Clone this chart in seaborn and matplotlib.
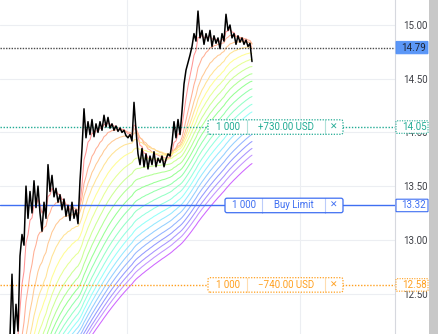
import colorsys
import numpy as np
import pandas as pd
import matplotlib
matplotlib.use("Agg")
import matplotlib.pyplot as plt
from matplotlib.patches import FancyBboxPatch
from matplotlib.lines import Line2D
from matplotlib.transforms import IdentityTransform
import seaborn as sns

# ---------------- data ----------------
close = [
    12.10, 12.68, 12.08, 12.40, 12.15, 12.85, 13.05, 12.95, 13.50, 13.20,
    13.45, 13.25, 13.55, 13.30, 13.50, 13.25, 13.08, 13.35, 13.20, 13.70,
    13.45, 13.60, 13.40, 13.48, 13.35, 13.42, 13.28, 13.38, 13.22, 13.32,
    13.18, 13.35, 13.20, 13.28, 13.15, 13.55, 13.85, 14.22, 13.95, 14.10,
    13.98, 14.12, 13.96, 14.08, 14.00, 14.10, 14.02, 14.16, 14.05, 14.14,
    14.04, 14.08, 14.02, 14.06, 14.01, 14.04, 14.00, 14.02, 13.97, 13.95,
    13.98, 13.92, 14.28, 14.02, 13.80, 13.70, 13.85, 13.68, 13.80, 13.66,
    13.78, 13.70, 13.82, 13.68, 13.76, 13.72, 13.78, 13.68, 13.75, 13.80,
    13.78, 13.90, 14.10, 13.95, 14.12, 13.98, 14.20, 14.45, 14.58, 14.65,
    14.72, 14.80, 14.92, 14.85, 15.13, 14.88, 14.95, 14.82, 14.92, 14.85,
    14.95, 14.80, 14.90, 14.83, 14.88, 14.78, 14.92, 14.85, 15.10, 14.95,
    15.00, 14.88, 14.92, 14.82, 14.90, 14.84, 14.88, 14.82, 14.86, 14.80,
    14.83, 14.66,
]
ma_seed = 11.09
ma_periods = [5, 12, 19, 26, 33, 40, 47, 54, 61, 68,
              75, 82, 89, 96, 103, 110, 117, 124, 131, 140]
y_ticks = [12.50, 13.00, 13.50, 14.00, 14.50, 15.00]
last_price = 14.79
order_prices = [14.05, 13.32, 12.58]
order_qty = ["1 000", "1 000", "1 000"]
order_texts = ["+730.00 USD", "Buy Limit", "\u2212740.00 USD"]

# ---------------- styling ----------------
order_colors = ["#22ab94", "#3f6ff2", "#ffa01f"]
order_ls = [(0, (1, 1.2)), "solid", (0, (1, 1.2))]

sns.set_theme(style="white")
plt.rcParams["font.family"] = ["Roboto", "DejaVu Sans"]

W, H = 439, 334
fig = plt.figure(figsize=(W / 100, H / 100), dpi=100)
fig.patch.set_facecolor("white")
PLOT_W = 395
ax = fig.add_axes([0, 0, PLOT_W / W, 1])

bars = np.arange(len(close))
price_df = pd.DataFrame({"bar": bars, "close": close})
parts = []
for p in ma_periods:
    vals = pd.Series([ma_seed] + close).ewm(span=p, adjust=False).mean().iloc[1:].to_numpy()
    parts.append(pd.DataFrame({"bar": bars, "value": vals, "ma": f"EMA {p}"}))
ribbon_df = pd.concat(parts, ignore_index=True)

n = len(ma_periods)
palette = []
for k in range(n):
    h = 0.78 * k / (n - 1)
    r, g, b = colorsys.hsv_to_rgb(h, 1, 1)
    w = 0.58 if k < n - 1 else 0.4
    palette.append((r + (1 - r) * w, g + (1 - g) * w, b + (1 - b) * w))

sns.lineplot(data=ribbon_df, x="bar", y="value", hue="ma", palette=palette,
             legend=False, lw=0.75, ax=ax, estimator=None, sort=False, zorder=2)
sns.lineplot(data=price_df, x="bar", y="close", color="black", lw=1.1,
             ax=ax, estimator=None, zorder=4)

ax.set_xlim(-5, 192.5)
ax.set_ylim(12.123, 15.233)
ax.set_xlabel("")
ax.set_ylabel("")
ax.set_xticks([58.5, 145])
ax.set_xticklabels([])
ax.set_yticks(y_ticks)
ax.set_yticklabels([f"{v:.2f}" for v in y_ticks])
ax.yaxis.tick_right()
ax.tick_params(axis="y", length=0, pad=5.8, labelsize=7, labelcolor="#3d3f45")
ax.tick_params(axis="x", length=0)
ax.grid(True, color="#eceef2", lw=0.8)
for s in ["top", "left", "bottom"]:
    ax.spines[s].set_visible(False)
ax.spines["right"].set_color("#d6d8de")
ax.spines["right"].set_linewidth(0.8)

# horizontal price lines
ax.axhline(last_price, color="#4a4a4a", lw=1.0, ls=(0, (1, 1)), zorder=3)
for pr, c, ls in zip(order_prices, order_colors, order_ls):
    ax.axhline(pr, color=c, lw=1.0, ls=ls, zorder=3)

fig.canvas.draw()
ident = IdentityTransform()


def ypix(v):
    return ax.transData.transform((0, v))[1]


def box(x0, x1, yc, h, ec, ls, fc="white", lw=0.9, r=2):
    patch = FancyBboxPatch((x0, yc - h / 2), x1 - x0, h,
                           boxstyle=f"round,pad=0,rounding_size={r}",
                           transform=ident, fc=fc, ec=ec, ls=ls, lw=lw, zorder=10)
    fig.add_artist(patch)


# right price scale labels
yl = ypix(last_price)
box(396, 428, yl, 12.5, "#4e8ef7", "solid", fc="#5b97f7", lw=0.6, r=0.5)
fig.text(414, yl, f"{last_price:.2f}", transform=ident, ha="center", va="center",
         fontsize=7, color="#1b2233", zorder=11)
for pr, c, ls in zip(order_prices, order_colors, order_ls):
    yy = ypix(pr)
    box(396, 428, yy, 12.5, c, ls, lw=0.8, r=0.5)
    fig.text(414, yy, f"{pr:.2f}", transform=ident, ha="center", va="center",
             fontsize=7, color=c, zorder=11)

# order widgets inside the chart
layouts = [(208, 247, 325, 343), (225, 262, 325, 343), (208, 247, 325, 343)]
for pr, q, t, c, ls, (x0, d1, d2, x1) in zip(order_prices, order_qty, order_texts,
                                             order_colors, order_ls, layouts):
    yy = ypix(pr)
    box(x0, x1, yy, 14.5, c, ls, lw=0.9, r=2)
    for dx in (d1, d2):
        fig.add_artist(Line2D([dx, dx], [yy - 7.2, yy + 7.2], transform=ident,
                              color=c, alpha=0.35, lw=0.8, zorder=11))
    fig.text((x0 + d1) / 2, yy, q, transform=ident, ha="center", va="center",
             fontsize=7, color=c, zorder=12)
    fig.text((d1 + d2) / 2, yy, t, transform=ident, ha="center", va="center",
             fontsize=7, color=c, zorder=12)
    fig.text((d2 + x1) / 2, yy, "\u2715", transform=ident, ha="center", va="center",
             fontsize=6.5, color=c, zorder=12, fontweight="bold",
             family=["DejaVu Sans"])

# grey strip at the far right
fig.add_artist(FancyBboxPatch((429, 0), 10, H, boxstyle="square,pad=0",
                              transform=ident, fc="#c8c8c8", ec="none", zorder=9))

fig.savefig("out.png", dpi=100)
